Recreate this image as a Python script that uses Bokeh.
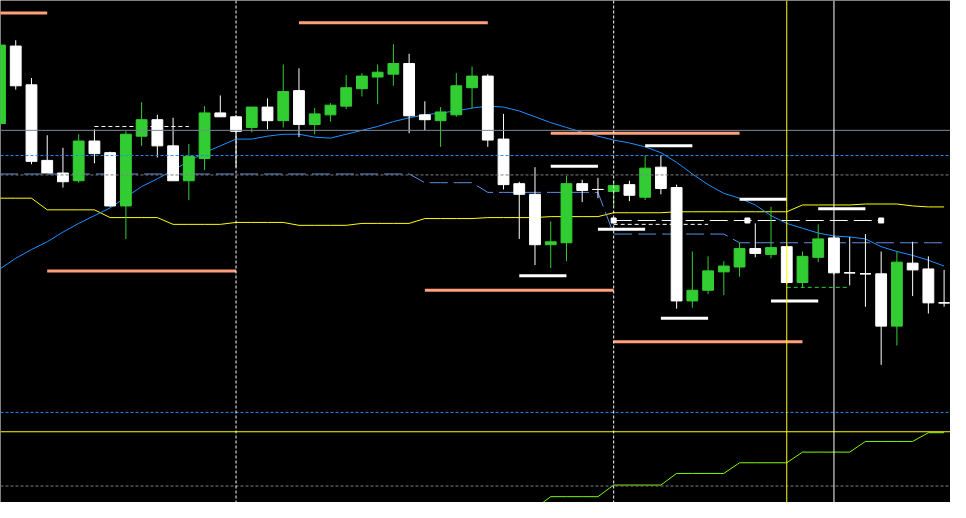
from bokeh.plotting import figure
from bokeh.models import Range1d, Span, ColumnDataSource
from bokeh.embed import file_html
from bokeh.resources import INLINE

# ---------------- data (price units, candle index on x) ----------------
idx = list(range(61))
opens = [391, 471, 431, 353, 340, 332, 373, 361, 306, 378, 395, 368, 332, 355, 402, 398,
         387, 408, 394, 425, 390, 400, 409, 427, 439, 442, 453, 400, 394, 400, 428, 440,
         375, 329, 318, 266, 268, 329, 323, 321, 328, 315, 346, 325, 208, 219, 238, 243,
         262, 256, 264, 227, 253, 273, 237, 236, 236, 182, 247, 241, 206]
highs = [474, 477, 438, 379, 366, 380, 385, 362, 383, 413, 400, 397, 370, 409, 420, 400,
         408, 417, 452, 448, 407, 412, 441, 443, 452, 473, 463, 414, 408, 443, 450, 442,
         401, 331, 346, 290, 337, 333, 335, 332, 332, 358, 358, 328, 259, 254, 249, 268,
         288, 305, 266, 259, 287, 275, 274, 277, 259, 259, 269, 254, 240]
lows = [389, 426, 349, 340, 325, 330, 350, 305, 272, 368, 356, 332, 312, 343, 398, 346,
        382, 385, 387, 377, 380, 393, 406, 419, 411, 430, 381, 384, 367, 398, 407, 367,
        323, 272, 245, 242, 249, 310, 314, 306, 311, 312, 318, 200, 201, 215, 214, 233,
        253, 252, 225, 222, 248, 235, 224, 202, 142, 162, 213, 195, 202]
closes = [472, 430, 352, 340, 331, 373, 360, 306, 380, 395, 368, 332, 357, 402, 398, 383,
          408, 394, 424, 390, 401, 410, 428, 440, 444, 453, 399, 395, 403, 430, 440, 374,
          328, 318, 266, 269, 329, 322, 323, 327, 317, 345, 324, 208, 219, 239, 244, 262,
          257, 263, 227, 254, 272, 237, 237, 236, 182, 248, 240, 206, 206]

ma = [241, 252, 261, 269, 279, 288, 296, 304, 315, 326, 334, 343, 352, 361, 368, 375,
      375, 378, 380, 380, 377, 376, 380, 384, 388, 393, 397, 400, 402, 404, 407, 409,
      408, 404, 398, 392, 387, 382, 378, 374, 371, 367, 361, 351, 339, 328, 319, 314,
      307, 296, 288, 283, 278, 275, 274, 272, 264, 259, 255, 250, 244]

yellow_step = [314, 314, 314, 302, 302, 302, 302, 294, 294, 294, 294, 287, 287, 287, 287,
               289, 289, 289, 289, 286, 286, 286, 286, 288, 288, 288, 288, 293, 293, 293, 293,
               294, 294, 294, 294, 295, 295, 295, 295, 299, 299, 299, 299, 300, 300, 300, 300,
               300, 300, 300, 300, 307, 307, 307, 307, 308, 308, 308, 306, 305, 305]

blue_step = [339, 339, 339, 339, 339, 339, 339, 339, 339, 339, 339, 339, 339, 339, 339, 339,
             339, 339, 339, 339, 339, 339, 339, 339, 339, 339, 339, 330, 330, 330, 330, 320,
             320, 320, 320, 320, 320, 320, 320, 277, 277, 277, 277, 277, 277, 277, 277, 268,
             268, 268, 268, 268, 268, 268, 268, 268, 268, 268, 268, 268, 268]

green_idx = list(range(31, 61))
green_step = [-6, -6, -6, -6, 6, 6, 6, 6, 18, 18, 18, 18, 30, 30, 30, 30, 41, 41, 41, 41,
              52, 52, 52, 52, 63, 63, 63, 63, 72, 72]

# horizontal full-width levels
level_gray_solid = 384
level_blue_dash = [358, 93]
level_gray_dash = [338, 17]
level_yellow = 73

# vertical markers (candle index)
vline_white_dash = [15, 39]
vline_yellow = 50
vline_white = 53

# thick salmon period lines
salmon_y = [505, 495, 239, 219, 381, 166]
salmon_x0 = [-9, 19, 3, 27, 35, 39]
salmon_x1 = [3, 31, 15, 39, 47, 51]

# thick white swing lines
swing_y = [347, 368, 313, 303, 282, 190, 208, 234]
swing_x0 = [35, 41, 47, 52, 38, 42, 49, 33]
swing_x1 = [38, 44, 50, 55, 41, 45, 52, 36]

# thin dashed segments
wd_short_y = [388, 287]
wd_short_x0 = [6, 39]
wd_short_x1 = [12, 45]
wd_long_y = 291
wd_long_x0 = 39
wd_long_x1 = 56
marker_x = [39, 47.5, 56]
green_dash_y = 222
green_dash_x0 = 50
green_dash_x1 = 54

# ---------------- figure ----------------
W, H = 950, 502
p = figure(width=W, height=H, output_backend="svg", toolbar_location=None,
           x_range=Range1d(0.5 / 16, 966.5 / 16), y_range=Range1d(0, 518),
           min_border=0, background_fill_color="black", border_fill_color="black")
p.axis.visible = False
p.grid.visible = False
p.outline_line_color = None

# horizontal levels
p.add_layout(Span(location=level_gray_solid, dimension="width", line_color="#7a8898", line_width=1))
for lv in level_blue_dash:
    p.add_layout(Span(location=lv, dimension="width", line_color="#1e90ff", line_width=1, line_dash="3 2"))
for lv in level_gray_dash:
    p.add_layout(Span(location=lv, dimension="width", line_color="#808080", line_width=1, line_dash="3 2"))
p.add_layout(Span(location=level_yellow, dimension="width", line_color="#ffff00", line_width=1))

# vertical markers
for v in vline_white_dash:
    p.add_layout(Span(location=v, dimension="height", line_color="white", line_width=1, line_dash="3 2"))
p.add_layout(Span(location=vline_yellow, dimension="height", line_color="#ffff00", line_width=1))
p.add_layout(Span(location=vline_white, dimension="height", line_color="white", line_width=1))

# indicator lines
p.line(idx, yellow_step, line_color="#ffff00", line_width=1)
p.line(idx, blue_step, line_color="#5b8fe6", line_width=1, line_dash="18 6")
p.line(green_idx, green_step, line_color="#7cfc00", line_width=1)
p.line(idx, ma, line_color="#1e90ff", line_width=1)

# salmon / white thick lines
p.segment(x0=salmon_x0, y0=salmon_y, x1=salmon_x1, y1=salmon_y, line_color="#ffa07a", line_width=3)
p.segment(x0=swing_x0, y0=swing_y, x1=swing_x1, y1=swing_y, line_color="white", line_width=3)

# thin dashed segments
for y, a, b in zip(wd_short_y, wd_short_x0, wd_short_x1):
    p.line([a, b], [y, y], line_color="white", line_width=1, line_dash="4 3")
p.line([wd_long_x0, wd_long_x1], [wd_long_y, wd_long_y], line_color="white", line_width=1, line_dash="18 6")
p.scatter(marker_x, [wd_long_y] * len(marker_x), marker="square", size=5, fill_color="white", line_color="white")
p.line([green_dash_x0, green_dash_x1], [green_dash_y, green_dash_y], line_color="#32cd32", line_width=1, line_dash="4 3")

# candles
colors = []
for o, c in zip(opens, closes):
    colors.append("#32cd32" if c > o else "white")
src = ColumnDataSource(dict(x=idx, o=opens, h=highs, l=lows, c=closes,
                            top=[max(o, c) for o, c in zip(opens, closes)],
                            bot=[min(o, c) for o, c in zip(opens, closes)],
                            col=colors))
p.segment(x0="x", y0="h", x1="x", y1="l", line_color="col", line_width=1, source=src)
p.vbar(x="x", top="top", bottom="bot", width=11 / 16, fill_color="col", line_color="col",
       line_width=1, source=src)
doji_x = [i for i, o, c in zip(idx, opens, closes) if o == c]
doji_y = [c for o, c in zip(opens, closes) if o == c]
p.segment(x0=[x - 5.5 / 16 for x in doji_x], y0=doji_y, x1=[x + 5.5 / 16 for x in doji_x], y1=doji_y,
          line_color="white", line_width=1)

open("out.html", "w").write(file_html(p, INLINE))
